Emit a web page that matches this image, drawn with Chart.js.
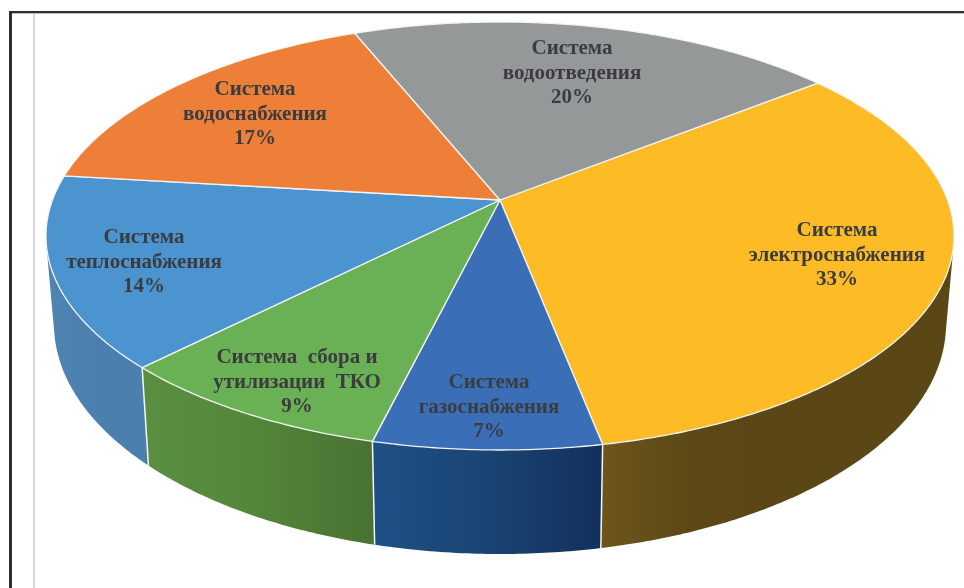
<!DOCTYPE html>
<html>
  <head>
    <meta charset="utf-8" />
    <script src="https://cdn.jsdelivr.net/npm/chart.js@4"></script>
    <style>
      html, body { margin: 0; padding: 0; background: #fff; overflow: hidden; }
      #wrap { position: relative; width: 964px; height: 588px; }
      #chart { position: absolute; left: 0; top: 0; }
      .rule { position: absolute; }
    </style>
  </head>
  <body>
    <div id="wrap">
      <div class="rule" style="left:9px;top:11px;width:955px;height:2px;background:#2f2f2f"></div>
      <div class="rule" style="left:10px;top:13px;width:954px;height:1px;background:#bdbdbd"></div>
      <div class="rule" style="left:9px;top:11px;width:3px;height:577px;background:#2f2f2f"></div>
      <div class="rule" style="left:33px;top:14px;width:2px;height:574px;background:#d6d6d6"></div>
      <canvas id="chart" width="964" height="588"></canvas>
    </div>
    <script>
      const names = [
        ["Система", "электроснабжения"],
        ["Система", "газоснабжения"],
        ["Система  сбора и", "утилизации  ТКО"],
        ["Система", "теплоснабжения"],
        ["Система", "водоснабжения"],
        ["Система", "водоотведения"],
      ];
      // the labels show them rounded
      const shares = [32.6, 6.9, 8.6, 14.45, 17.0, 20.45];
      const topColors = ["#fdbb26", "#3a6fb8", "#6ab054", "#4c94d0", "#ed7f38", "#959898"];

      // side wall shading, left to right (only the slices facing us have one)
      const wallColors = [
        ["#6d551c", "#5c4816", "#5b4715", "#5b4715", "#5b4715"],
        ["#1f5086", "#1a4473", "#12305c"],
        ["#5a8f41", "#538639", "#497233"],
        ["#4f84b4", "#4a7fae", "#4a7fae"],
        null,
        null,
      ];
      // first line centre of each label
      const labelAt = [
        [837, 231],
        [489, 383],
        [297, 358],
        [144, 238],
        [255, 90],
        [572, 49],
      ];

      // top face: ellipse with the pie centre pushed back (perspective)
      const topRim = { cx: 500, cy: 236, rx: 454, ry: 214 };
      const botRim = { cx: 500, cy: 324, rx: 446, ry: 230 };
      const skew = -0.1682;
      const squeeze = Math.sqrt(1 - skew * skew);

      function norm(angle) {
        const u = Math.cos(angle);
        const v = Math.sin(angle);
        const w = 1 + skew * v;
        return [(squeeze * u) / w, (v + skew) / w];
      }
      function onRim(rim, angle) {
        const n = norm(angle);
        return [rim.cx + rim.rx * n[0], rim.cy + rim.ry * n[1]];
      }
      function sample(a0, a1) {
        const out = [];
        const n = Math.max(2, Math.ceil((a1 - a0) / 0.01));
        for (let i = 0; i <= n; i++) out.push(a0 + ((a1 - a0) * i) / n);
        return out;
      }
      // outline of a wall: the top face is painted over its upper part afterwards
      function hull(points) {
        const pts = points.slice().sort((p, q) => p[0] - q[0] || p[1] - q[1]);
        const cross = (o, a, b) => (a[0] - o[0]) * (b[1] - o[1]) - (a[1] - o[1]) * (b[0] - o[0]);
        const half = (list) => {
          const out = [];
          list.forEach((p) => {
            while (out.length > 1 && cross(out[out.length - 2], out[out.length - 1], p) <= 0) out.pop();
            out.push(p);
          });
          out.pop();
          return out;
        };
        return half(pts).concat(half(pts.slice().reverse()));
      }

      const pie3d = {
        id: "pie3d",
        beforeDatasetsDraw(chart) {
          const ctx = chart.ctx;
          const arcs = chart.getDatasetMeta(0).data;

          // walls
          arcs.forEach((arc, i) => {
            if (!wallColors[i]) return;
            const steps = sample(arc.startAngle, arc.endAngle).filter((a) => norm(a)[1] > -0.25);
            const xs = steps.map((a) => onRim(topRim, a)[0]);
            const g = ctx.createLinearGradient(Math.min(...xs), 0, Math.max(...xs), 0);
            wallColors[i].forEach((c, k) => g.addColorStop(k / (wallColors[i].length - 1), c));
            const outline = hull(steps.map((a) => onRim(topRim, a)).concat(steps.map((a) => onRim(botRim, a))));
            ctx.beginPath();
            outline.forEach((p, k) => (k ? ctx.lineTo(p[0], p[1]) : ctx.moveTo(p[0], p[1])));
            ctx.closePath();
            ctx.fillStyle = g;
            ctx.fill();
          });

          // white edges between walls
          ctx.strokeStyle = "#f4f6f4";
          ctx.lineWidth = 1.5;
          arcs.forEach((arc, i) => {
            if (!wallColors[i] || !wallColors[i + 1]) return;
            const a = onRim(topRim, arc.endAngle);
            const b = onRim(botRim, arc.endAngle);
            ctx.beginPath();
            ctx.moveTo(a[0], a[1]);
            ctx.lineTo(b[0], b[1]);
            ctx.stroke();
          });

          // top face
          const apex = [topRim.cx, topRim.cy + topRim.ry * skew];
          arcs.forEach((arc, i) => {
            ctx.beginPath();
            ctx.moveTo(apex[0], apex[1]);
            sample(arc.startAngle, arc.endAngle).forEach((a) => {
              const p = onRim(topRim, a);
              ctx.lineTo(p[0], p[1]);
            });
            ctx.closePath();
            ctx.fillStyle = topColors[i];
            ctx.fill();
            ctx.strokeStyle = "#f2f4f2";
            ctx.lineWidth = 1.3;
            ctx.lineJoin = "round";
            ctx.stroke();
          });
          return false;
        },
        afterDraw(chart) {
          const ctx = chart.ctx;
          ctx.fillStyle = "#3a3c40";
          ctx.font = 'bold 21px "Liberation Serif"';
          ctx.textAlign = "center";
          ctx.textBaseline = "middle";
          names.forEach((lines, i) => {
            const [x, y] = labelAt[i];
            lines.concat(Math.round(shares[i]) + "%").forEach((t, k) => {
              ctx.fillText(t, x, y + k * 24.5);
            });
          });
        },
      };

      new Chart(document.getElementById("chart"), {
        type: "pie",
        data: {
          labels: names.map((n) => n.join(" ")),
          datasets: [{ data: shares, backgroundColor: topColors, borderColor: "#fff" }],
        },
        options: {
          responsive: false,
          animation: false,
          rotation: 51.6,
          plugins: { legend: { display: false }, tooltip: { enabled: false } },
        },
        plugins: [pie3d],
      });
    </script>
  </body>
</html>
